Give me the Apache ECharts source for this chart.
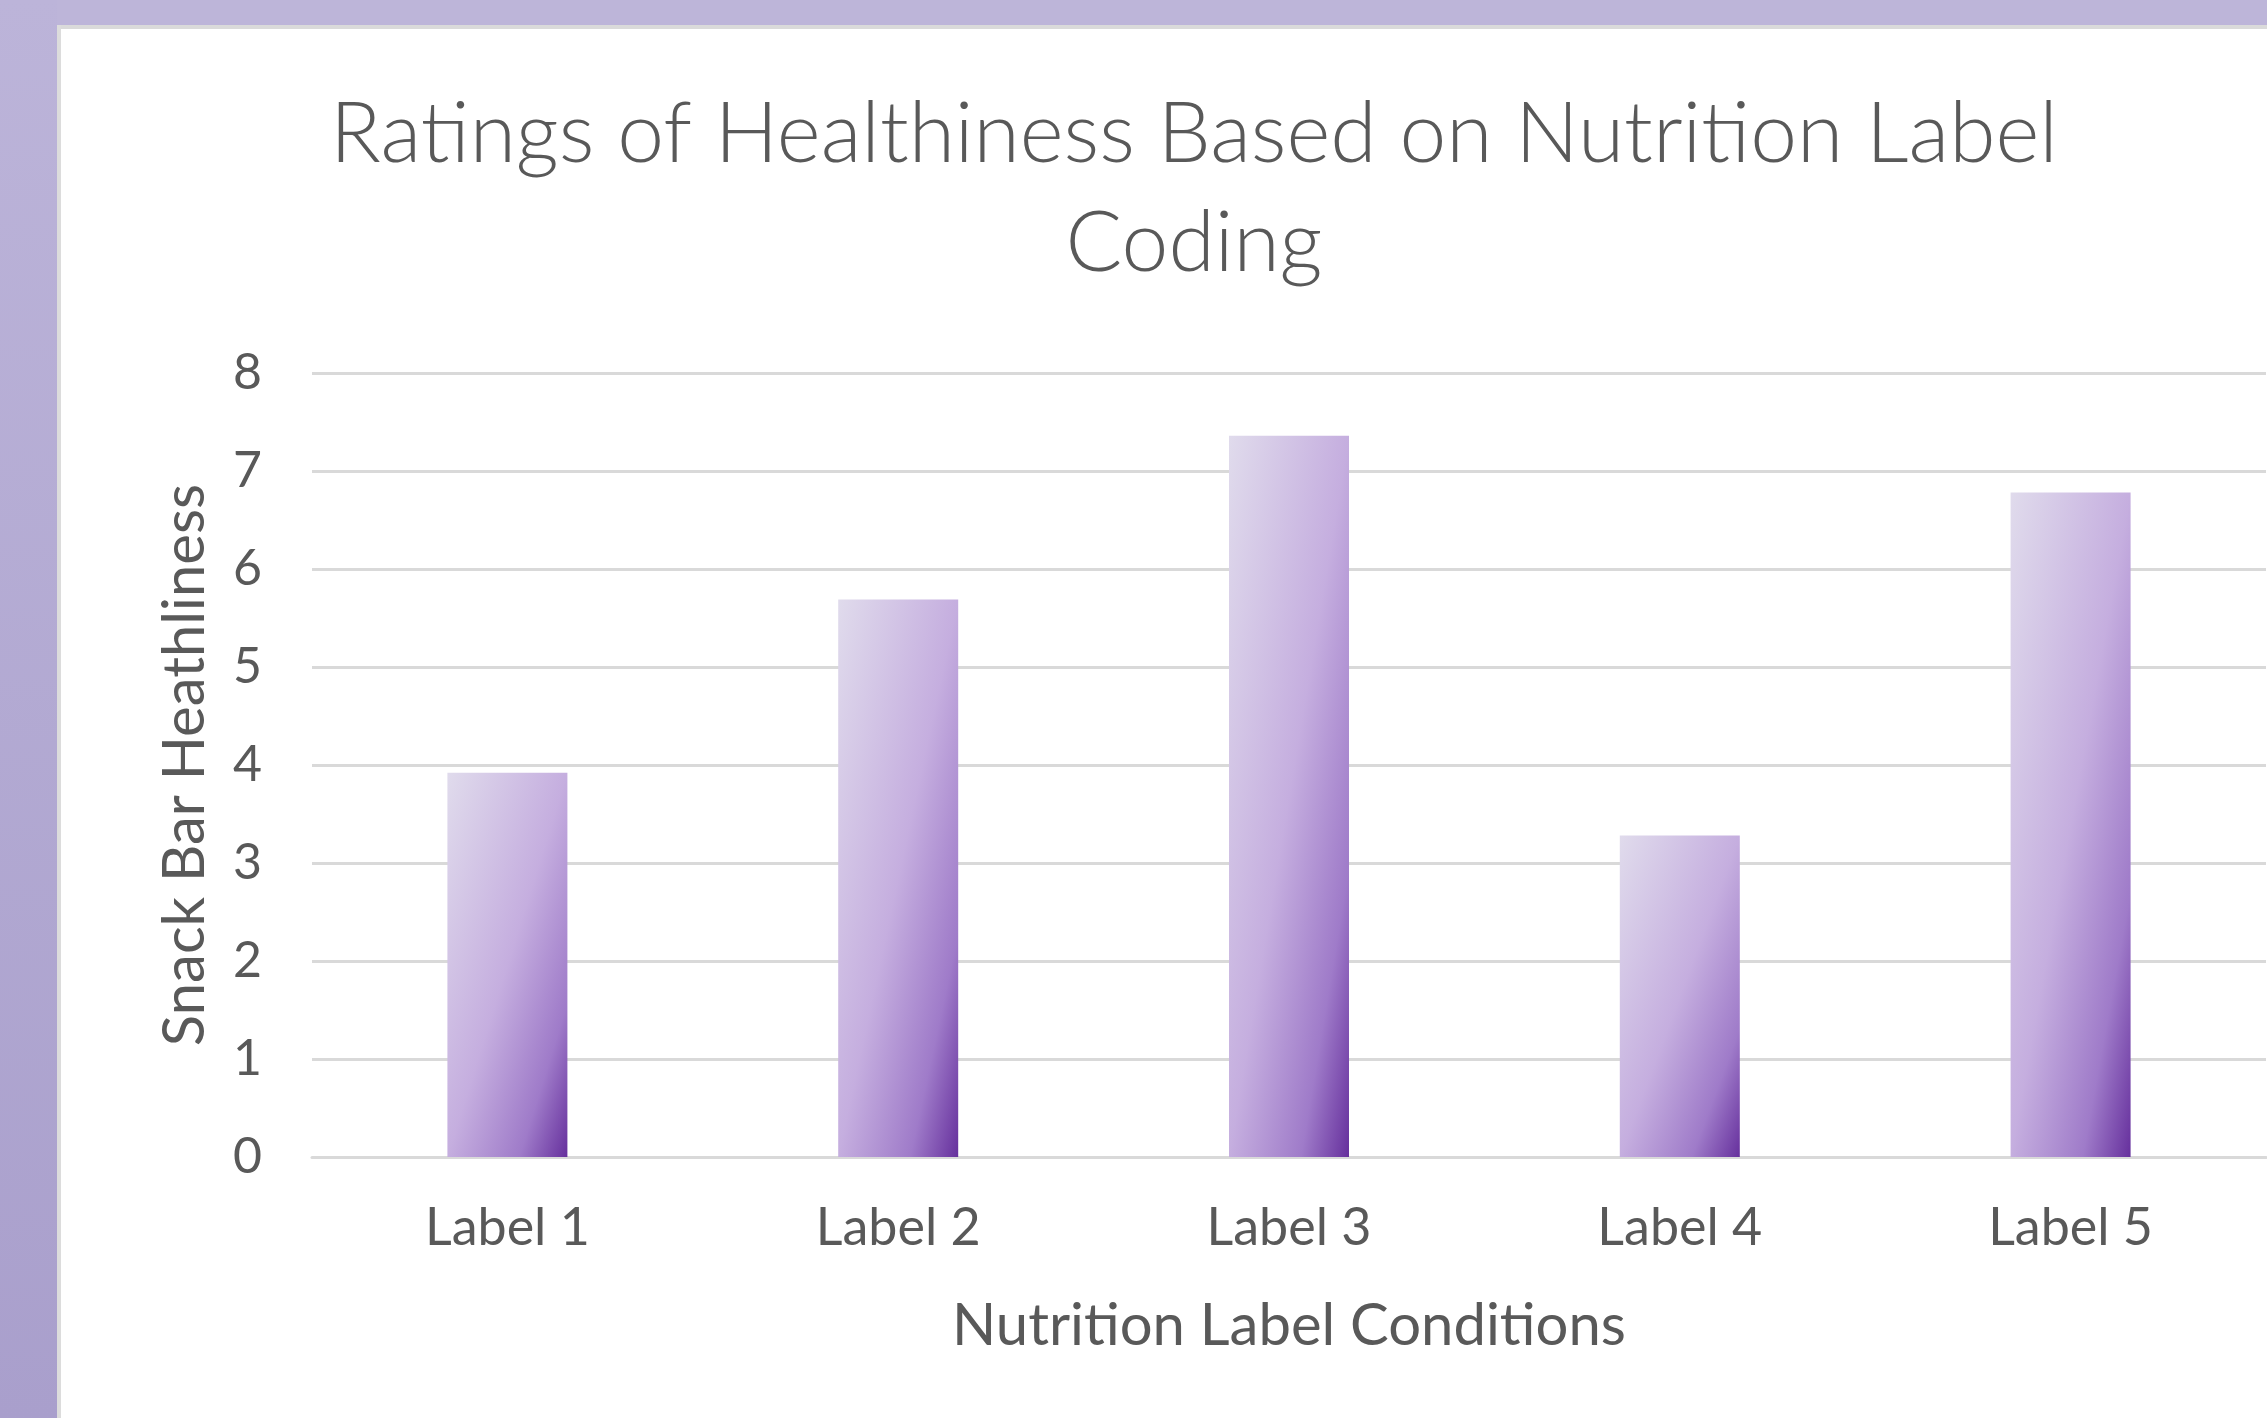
<!DOCTYPE html>
<html>
<head>
<meta charset="utf-8">
<title>Ratings of Healthiness Based on Nutrition Label Coding</title>
<script src="https://cdn.jsdelivr.net/npm/echarts@6/dist/echarts.min.js"></script>
<style>
  html, body { margin: 0; padding: 0; background: #ffffff; }
  #chart { width: 2267px; height: 1418px; }
</style>
</head>
<body>
<div id="chart"></div>
<script>
// Label conditions shown along the x axis
const conditions = ['Label 1', 'Label 2', 'Label 3', 'Label 4', 'Label 5'];
// Mean healthiness rating for each condition
const healthiness = [3.92, 5.69, 7.36, 3.28, 6.78];
// Value axis range
const yMin = 0;
const yMax = 8;
const yStep = 1;

const textGray = '#595959';
const gridGray = '#d9d9d9';
const fontFamily = 'Lato, "Open Sans", sans-serif';

const gridTop = 373;
const gridBottom = 261;
const chartHeight = 1418;
const barWidth = 120;

// Diagonal fill that runs corner to corner in the bar's own box:
// the colour depends on x/w + y/h, so tall bars shade mostly across their width.
function barGradient(value) {
  const pxPerUnit = (chartHeight - gridTop - gridBottom) / (yMax - yMin);
  const w = barWidth;
  const h = Math.max(1, (value - yMin) * pxPerUnit);
  const a = 2 / (1 / (w * w) + 1 / (h * h));
  return new echarts.graphic.LinearGradient(0, 0, a / (w * w), a / (h * h), [
    { offset: 0, color: '#e0dbec' },
    { offset: 0.5, color: '#c5aedf' },
    { offset: 0.8, color: '#9f7bc9' },
    { offset: 1, color: '#66309d' }
  ]);
}

const barData = healthiness.map(function (v) {
  return { value: v, itemStyle: { color: barGradient(v) } };
});

const chart = echarts.init(document.getElementById('chart'), null, { renderer: 'canvas' });

chart.setOption({
  backgroundColor: '#ffffff',
  animation: false,
  textStyle: { fontFamily: fontFamily },
  graphic: [
    // slide frame: purple band on top and left, thin grey edge around the chart area
    { type: 'rect', z: -10, shape: { x: 0, y: 0, width: 2267, height: 25 }, style: { fill: '#bdb5d9' } },
    {
      type: 'rect', z: -10, shape: { x: 0, y: 0, width: 57, height: 1418 },
      style: {
        fill: new echarts.graphic.LinearGradient(0, 0, 0, 1, [
          { offset: 0, color: '#bcb4d9' },
          { offset: 1, color: '#a99fcc' }
        ])
      }
    },
    { type: 'rect', z: -9, shape: { x: 57, y: 25, width: 2210, height: 4 }, style: { fill: '#dadada' } },
    { type: 'rect', z: -9, shape: { x: 57, y: 25, width: 4, height: 1393 }, style: { fill: '#dcdcdc' } }
  ],
  title: {
    text: 'Ratings of Healthiness Based on Nutrition Label\nCoding',
    left: 1189,
    top: 75,
    textAlign: 'center',
    textStyle: {
      color: textGray,
      fontFamily: fontFamily,
      fontWeight: 300,
      fontSize: 84,
      lineHeight: 109
    }
  },
  grid: {
    left: 312,
    right: 1,
    top: gridTop,
    bottom: gridBottom,
    containLabel: false
  },
  xAxis: {
    type: 'category',
    data: conditions,
    name: 'Nutrition Label Conditions',
    nameLocation: 'middle',
    nameGap: 140,
    nameTextStyle: { color: textGray, fontSize: 58, fontFamily: fontFamily },
    axisLine: { show: true, lineStyle: { color: gridGray, width: 3 } },
    axisTick: { show: false },
    axisLabel: { color: textGray, fontSize: 52, margin: 45, fontFamily: fontFamily }
  },
  yAxis: {
    type: 'value',
    min: yMin,
    max: yMax,
    interval: yStep,
    name: 'Snack Bar Heathliness',
    nameLocation: 'middle',
    nameGap: 98,
    nameRotate: 90,
    nameTextStyle: { color: textGray, fontSize: 58, fontFamily: fontFamily },
    axisLine: { show: false },
    axisTick: { show: false },
    axisLabel: { color: textGray, fontSize: 50, margin: 50, fontFamily: fontFamily },
    splitLine: { show: true, lineStyle: { color: gridGray, width: 3 } }
  },
  series: [
    {
      type: 'bar',
      data: barData,
      barWidth: barWidth
    }
  ]
});
</script>
</body>
</html>
